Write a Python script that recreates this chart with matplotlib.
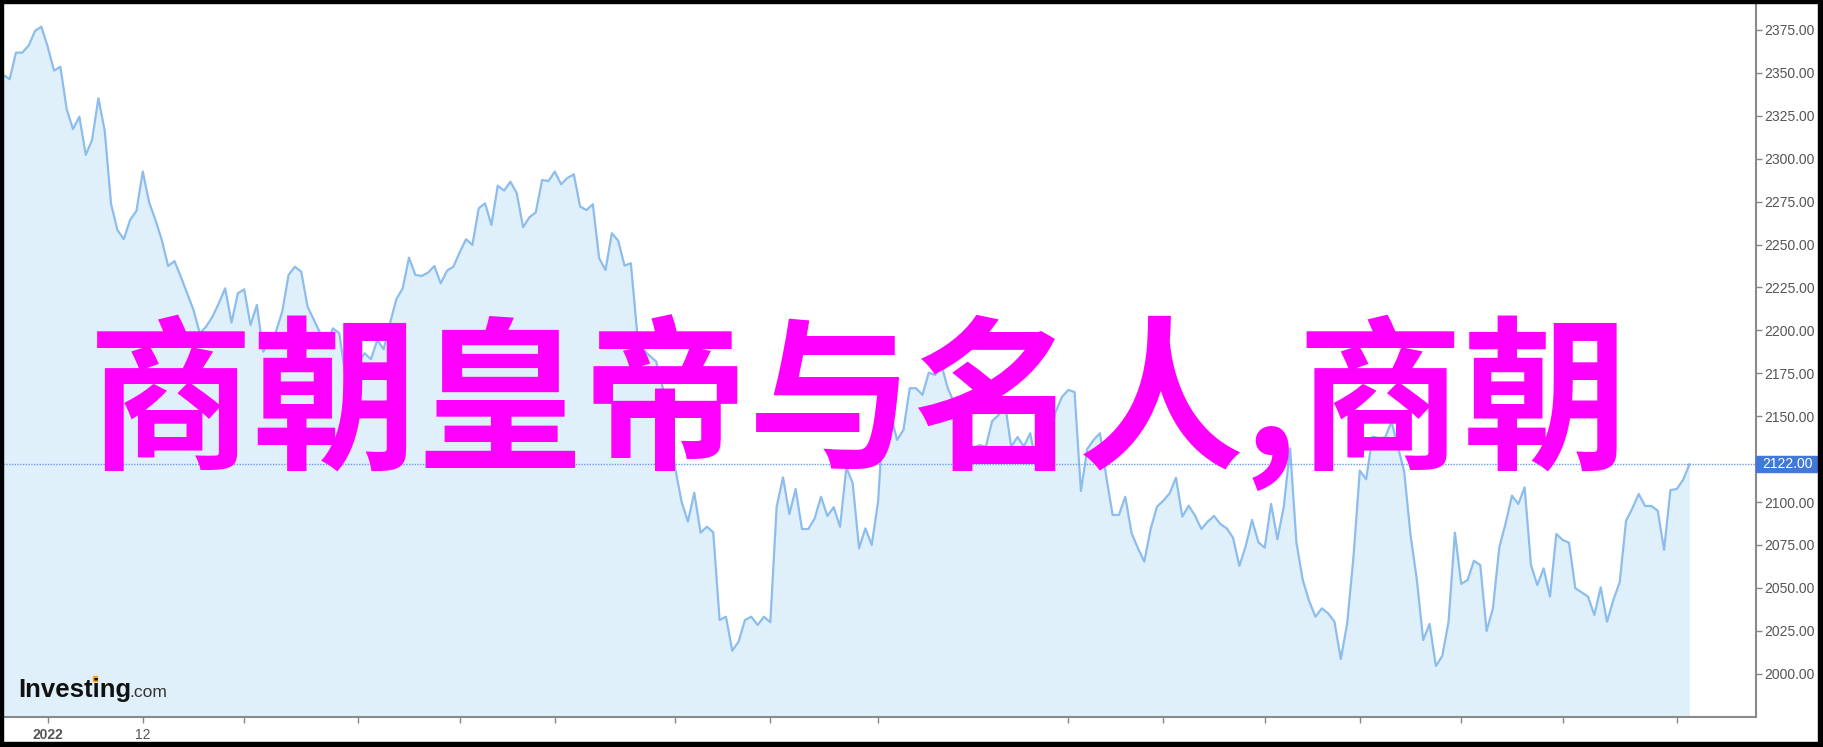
import numpy as np
import matplotlib.pyplot as plt
from matplotlib.patches import Rectangle

plt.rcParams['font.family'] = ['Liberation Sans', 'DejaVu Sans']

# daily closes
closes = [
    2348.8, 2346.3, 2361.8, 2361.8, 2365.9, 2374.4, 2376.9, 2365.3, 2351.3, 2353.6,
    2328.8, 2317.2, 2324.5, 2302.2, 2310.9, 2335.2, 2316.2, 2273.6, 2258.5, 2253.1,
    2264.3, 2269.6, 2292.5, 2274.6, 2264.3, 2252.7, 2237.5, 2240.4, 2231.3, 2221.6,
    2211.9, 2198.3, 2202.2, 2208.0, 2215.8, 2224.5, 2204.5, 2221.6, 2223.9, 2203.1,
    2214.8, 2187.6, 2193.2, 2199.2, 2210.9, 2232.3, 2237.1, 2234.2, 2213.8, 2206.1,
    2198.3, 2191.5, 2201.2, 2198.3, 2173.0, 2175.8, 2181.6, 2186.7, 2183.2, 2194.4,
    2189.0, 2204.1, 2218.1, 2224.5, 2242.4, 2232.3, 2231.7, 2233.6, 2237.5, 2227.4,
    2234.8, 2237.1, 2245.5, 2253.1, 2249.8, 2271.1, 2274.0, 2261.4, 2284.3, 2281.4,
    2286.6, 2279.9, 2260.1, 2265.9, 2268.8, 2287.6, 2287.0, 2292.5, 2285.1, 2288.8,
    2290.9, 2272.1, 2270.1, 2273.5, 2242.0, 2235.2, 2256.6, 2252.3, 2237.7, 2239.1,
    2198.5, 2188.6, 2185.1, 2181.8, 2167.2, 2142.0, 2119.7, 2100.2, 2088.6, 2105.5,
    2082.2, 2085.6, 2082.4, 2031.3, 2033.2, 2013.4, 2018.7, 2031.3, 2033.2, 2028.4,
    2033.2, 2030.0, 2097.3, 2114.4, 2093.0, 2107.6, 2084.3, 2084.3, 2090.5, 2103.1,
    2091.9, 2097.0, 2085.6, 2120.2, 2110.9, 2073.1, 2084.7, 2075.0, 2100.2, 2159.5,
    2150.7, 2136.2, 2142.0, 2166.3, 2166.3, 2162.4, 2175.4, 2174.0, 2179.8, 2166.3,
    2157.7, 2142.6, 2136.2, 2131.5, 2133.2, 2132.3, 2147.2, 2150.7, 2157.7, 2132.3,
    2137.9, 2132.4, 2140.1, 2121.0, 2122.2, 2136.2, 2152.5, 2161.2, 2165.3, 2164.1,
    2106.4, 2130.9, 2136.2, 2140.1, 2114.8, 2092.5, 2092.5, 2103.1, 2081.8, 2073.1,
    2065.3, 2084.3, 2097.3, 2100.8, 2105.1, 2114.2, 2091.5, 2097.9, 2092.1, 2084.3,
    2088.6, 2091.9, 2087.2, 2084.7, 2079.2, 2062.8, 2074.4, 2089.6, 2076.6, 2073.4,
    2098.9, 2078.3, 2097.3, 2131.3, 2076.3, 2054.6, 2042.4, 2033.2, 2038.1, 2035.2,
    2030.3, 2008.6, 2029.0, 2068.2, 2118.3, 2113.3, 2138.1, 2137.3, 2137.7, 2146.8,
    2132.3, 2117.7, 2080.8, 2054.6, 2019.6, 2029.0, 2004.5, 2010.3, 2030.3, 2082.2,
    2052.3, 2054.6, 2065.8, 2063.3, 2024.9, 2038.1, 2073.6, 2087.6, 2103.7, 2098.9,
    2108.6, 2063.3, 2051.7, 2061.4, 2044.9, 2081.4, 2077.9, 2076.3, 2049.8, 2047.4,
    2044.9, 2034.2, 2050.3, 2030.3, 2043.0, 2053.3, 2089.1, 2096.4, 2104.7, 2097.7,
    2097.7, 2095.0, 2072.1, 2107.0, 2107.6, 2112.9, 2122.0,
]
last_price = 2122.00
# 2125 sits under the current-price box, so its label is not shown
y_ticks = [2000, 2025, 2050, 2075, 2100, 2150, 2175, 2200, 2225, 2250,
           2275, 2300, 2325, 2350, 2375]
# trading-day index of each x tick and its label
x_tick_days = [7, 22, 38, 56, 72, 87, 106, 121, 138, 168, 183, 199, 214, 230, 246, 264]
x_tick_labels = ['2022', '12'] + [''] * 14
title = '商朝皇帝与名人,商朝'

W, H = 1824, 747
fig = plt.figure(figsize=(W / 100, H / 100), dpi=100)
ax = fig.add_axes([3 / W, 30 / H, 1753 / W, 714 / H])

days = np.arange(len(closes))
ymin, ymax = 1974.8, 2390.7
ax.fill_between(days, closes, ymin, color='#e0f0fa', lw=0)
ax.plot(days, closes, color='#8cbdec', lw=1.6)
ax.axhline(last_price, color='#6f9be6', ls=(0, (1, 1)), lw=1)

ax.set_xlim(-0.05, 276.5)
ax.set_ylim(ymin, ymax)

ax.yaxis.tick_right()
ax.set_yticks(y_ticks)
ax.set_yticklabels(['%.2f' % v for v in y_ticks])
ax.set_xticks(x_tick_days)
ax.set_xticklabels(x_tick_labels)
ax.get_xticklabels()[0].set_fontweight('bold')
ax.get_xticklabels()[0].set_color('#333333')

ax.tick_params(axis='y', direction='out', length=4, width=1, color='#888888',
               labelcolor='#555555', labelsize=10, pad=2)
ax.tick_params(axis='x', direction='out', length=4, width=1, color='#888888',
               labelcolor='#555555', labelsize=10, pad=4)
for s in ['left', 'top']:
    ax.spines[s].set_visible(False)
for s in ['right', 'bottom']:
    ax.spines[s].set_color('#8a8a8a')
    ax.spines[s].set_linewidth(1.5)

# highlighted current price label
ax_w_px = 1753
px_per_unit = 714 / (ymax - ymin)
box = Rectangle((1.0, last_price - 8 / px_per_unit), 62 / ax_w_px, 16 / px_per_unit,
                transform=ax.get_yaxis_transform(), color='#4279d9', clip_on=False, zorder=5)
ax.add_patch(box)
ax.annotate('%.2f' % last_price, xy=(1.0, last_price), xycoords=ax.get_yaxis_transform(),
            xytext=(6, 0), textcoords='offset pixels', ha='left', va='center',
            color='white', fontsize=10, zorder=6, annotation_clip=False)

# watermark logo
fig.text(18 / W, 1 - 697 / H, 'Investing', fontsize=18.5, weight='bold', color='#111111')
fig.text(129 / W, 1 - 697 / H, '.com', fontsize=12.5, color='#333333')
fig.add_artist(Rectangle((93 / W, 1 - 681 / H), 4 / W, 5 / H, color='#f5a11c',
                         transform=fig.transFigure))

# big overlay text
fig.text(88 / W, 1 - 456 / H, title, fontsize=119, color='#ff00ff', weight='bold',
         family=['Noto Sans CJK SC', 'DejaVu Sans'], ha='left', va='baseline')

# black frame around the picture
for x0, y0, w, h in [(0, 0, 3, H), (0, 0, W, 5), (0, H - 3, W, 3), (W - 6, 0, 6, H)]:
    fig.add_artist(Rectangle((x0 / W, y0 / H), w / W, h / H, color='black',
                             transform=fig.transFigure))

fig.savefig('out.png', dpi=100)
